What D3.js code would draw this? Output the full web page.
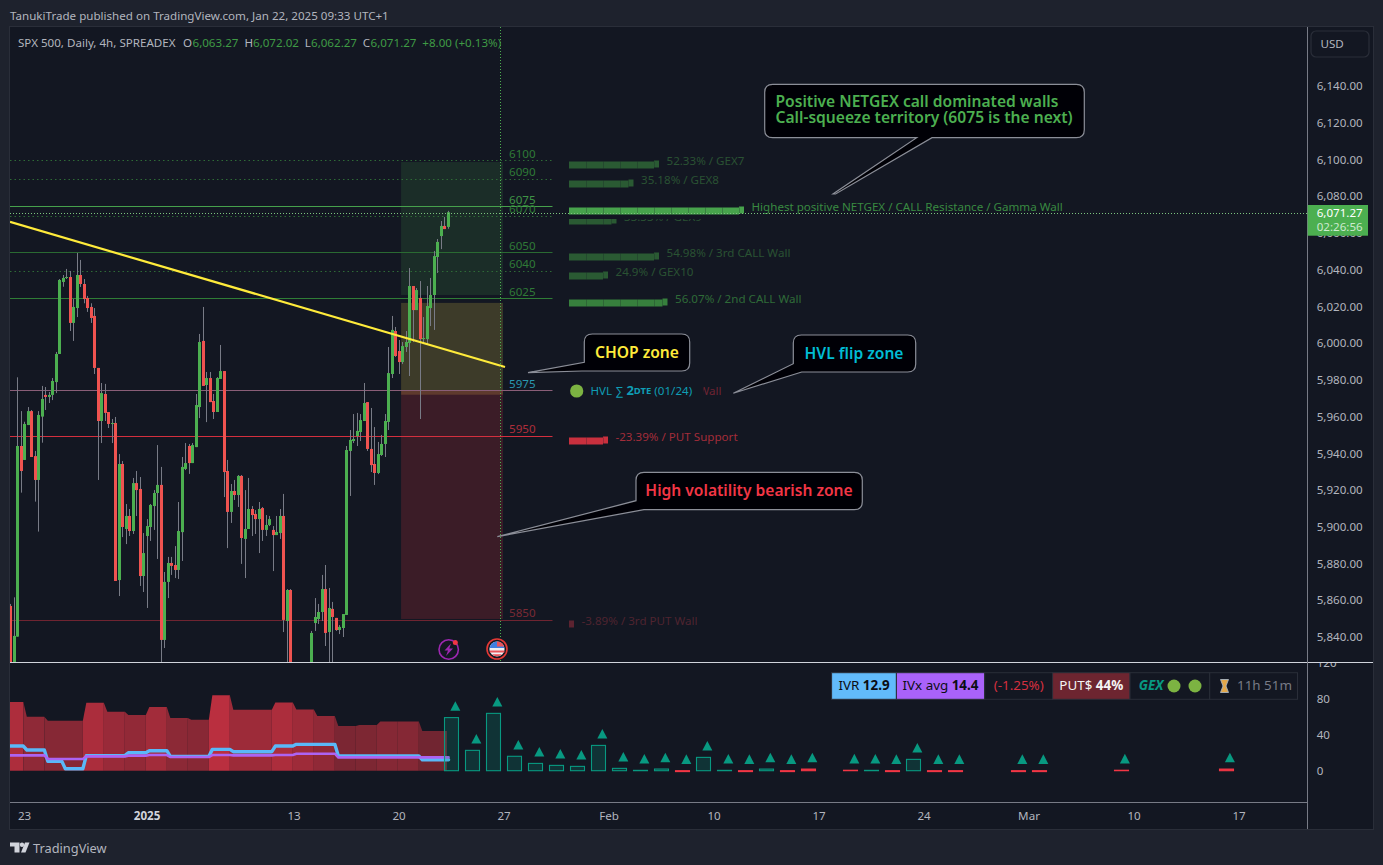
<!DOCTYPE html>
<html><head><meta charset="utf-8">
<script src="https://cdn.jsdelivr.net/npm/d3@7/dist/d3.min.js"></script>
<style>html,body{margin:0;padding:0;background:#1e222d;overflow:hidden}svg{display:block}text{font-family:"Noto Sans",sans-serif}</style>
</head><body><div id="c"></div>
<script>
// ---------- OHLC (bars 81-85 lie below the visible pane) ----------
const barOpen=[5856.9,5820,5840.2,5944.0,5936.4,5955.4,5963.0,5938.5,5925.5,5960.0,5971.8,5970.7,5971.8,5978.8,5994.1,6033.3,6035.5,6036.0,6011.0,6019.1,6037.1,6032.2,6024.6,6019.7,6014.8,5986.5,5957.6,5972.3,5962.5,5956.0,5956.5,5871.0,5934.2,5898.8,5905.9,5897.7,5923.8,5920.6,5873.2,5895.0,5899.9,5911.3,5918.4,5922.8,5838.4,5870.0,5880.3,5879.2,5876.5,5897.1,5931.5,5944.0,5934.7,5943.4,5965.2,6001.2,5977.2,5981.0,5968.5,5962.5,5980.5,5984.8,5930.4,5908.1,5919.5,5917.3,5927.7,5893.4,5898.8,5909.7,5907.0,5904.2,5910.2,5898.3,5901.0,5898.3,5895.5,5896.6,5905.9,5848.7,5865.6,5822,5808,5800,5806,5812,5822,5847.6,5849.8,5853.6,5866.1,5842.7,5855.3,5850.4,5843.8,5844.9,5852.0,5941.3,5946.7,5949.4,5951.6,5957.6,5967.9,5942.4,5934.2,5929.3,5939.1,5945.1,5957.1,5983.2,6006.6,5995.7,5989.7,5997.9,6000.1,6031.1,6018.0,6024.6,6002.2,6002.2,6019.1,6026.2,6046.9,6058.3,6063.8,6063.27];
const barHigh=[5858.0,5861.6,5981.4,5963.0,5957.2,5965.2,5963.6,5941.3,5963.0,5976.7,5976.1,5973.4,5981.0,5995.2,6034.9,6037.1,6040.4,6039.3,6024.0,6049.1,6045.3,6034.9,6025.7,6021.7,6019.1,5986.5,5978.3,5977.8,5962.5,5958.7,5959.8,5939.6,5935.8,5912.4,5909.7,5926.6,5930.4,5927.1,5896.6,5904.2,5912.4,5920.0,5944.5,5932.6,5875.4,5883.6,5883.6,5889.5,5913.5,5938.0,5945.6,5945.1,5945.6,5972.3,6005.0,6019.7,5984.3,5984.3,5972.3,5981.5,5999.0,5984.8,5936.4,5923.3,5925.5,5928.2,5928.2,5920.0,5926.6,5911.3,5909.1,5913.5,5910.8,5906.4,5905.9,5900.4,5905.9,5909.7,5917.9,5866.1,5866.1,5824,5822,5812,5818,5822,5843.3,5861.2,5858.0,5873.8,5879.2,5866.7,5859.1,5850.4,5846.5,5852.5,5944.0,5952.7,5961.4,5962.0,5961.4,5978.3,5967.9,5964.7,5954.3,5946.2,5950.0,5961.4,5997.9,6014.8,6008.8,6001.7,6000.6,6006.6,6040.9,6031.1,6030.0,6033.8,6014.2,6031.1,6035.5,6050.2,6056.7,6066.5,6068.7,6072.02];
const barLow=[5815,5815,5840.2,5918.6,5936.4,5955.4,5938.0,5913.7,5897.4,5945.8,5963.6,5967.4,5969.0,5972.8,5994.1,6030.7,6034.9,6006.6,6001.2,6014.2,6030.6,6021.7,6017.0,6011.0,5983.2,5925.5,5945.6,5957.6,5953.8,5945.6,5870.5,5862.3,5894.4,5890.6,5895.0,5896.1,5905.9,5867.8,5864.5,5855.8,5892.3,5898.3,5882.5,5820,5834.0,5861.2,5873.8,5872.1,5871.6,5881.4,5930.9,5928.8,5934.7,5943.4,5959.2,5976.7,5957.0,5967.9,5958.7,5962.5,5980.5,5916.2,5888.4,5902.1,5914.6,5910.8,5879.8,5872.1,5898.8,5895.0,5896.1,5885.7,5892.3,5895.0,5900.4,5875.9,5895.5,5893.4,5842.7,5815,5815,5800,5795,5790,5798,5805,5815,5843.3,5847.1,5848.7,5835.1,5815,5815,5843.3,5841.6,5840.0,5852.0,5916.8,5945.6,5944.0,5946.7,5957.6,5941.3,5929.8,5922.8,5928.7,5938.6,5938.0,5952.7,5981.0,5992.5,5983.2,5988.6,5995.2,5982.1,6000.6,6018.0,5958.7,5999.5,5999.5,6009.3,6007.2,6038.2,6051.2,6062.1,6062.27];
const barClose=[5820,5840.6,5944.0,5930.4,5956.0,5963.0,5938.0,5925.5,5960.9,5969.6,5970.7,5971.8,5979.4,5994.1,6034.4,6035.5,6036.0,6011.0,6019.7,6037.1,6032.2,6024.0,6019.1,6013.7,5986.5,5957.6,5972.8,5962.0,5956.0,5956.5,5870.5,5934.2,5899.9,5905.9,5897.7,5923.8,5920.0,5873.2,5885.7,5900.4,5911.9,5918.4,5922.8,5838.4,5870.0,5880.3,5878.7,5876.5,5897.7,5932.6,5934.7,5934.7,5944.5,5966.3,6000.6,5976.7,5981.0,5967.9,5962.5,5981.0,5984.8,5929.8,5908.1,5919.5,5917.3,5927.7,5893.9,5898.8,5909.7,5906.4,5904.2,5909.7,5898.3,5901.0,5904.2,5895.5,5897.2,5905.9,5849.3,5865.6,5822,5810,5802,5808,5814,5820,5842.2,5850.9,5853.6,5866.1,5842.2,5855.8,5850.9,5843.8,5845.5,5852.5,5941.8,5947.3,5947.8,5952.2,5958.1,5967.4,5942.4,5933.6,5929.3,5939.6,5945.1,5957.6,5983.7,6007.2,5993.0,5989.7,5998.4,6000.6,6031.1,6018.0,6028.9,6002.2,6002.8,6020.2,6026.2,6047.4,6055.1,6063.8,6062.1,6071.27];

// ---------- price levels ----------
const levelValues=[6100,6090,6075,6070,6050,6040,6025,5975,5950,5850];
const levelDash=[true,true,false,true,false,true,false,false,false,false];
const levelColors=["#2e6b36","#2e6b36","#46a04c","#2e6b36","#2a6a32","#2e6b36","#2f7d36","#8a5e78","#d42f3e","#6f2431"];
const levelTextColors=["#2f7a37","#2f7a37","#3f9446","#2f7a37","#2f7a37","#2f7a37","#2f7a37","#2a98b0","#ae2e3b","#7a2a35"];

// ---------- shaded zones: top price, bottom price ----------
const zoneTops=[6099.7,6023,5975.4];
const zoneBottoms=[6027.3,5973,5850.9];
const zoneFills=["rgba(76,175,80,.15)","rgba(232,205,70,.2)","rgba(242,54,69,.18)"];
const zoneBars=[111.5,140.6];

// ---------- GEX rows ----------
const gexLevels=[6100,6090,6075,6070,6050,6040,6025,5950,5850];
const gexBlocks=[5,3.5,10,2.5,5,2,5.5,2,0];
const gexLabels=["52.33% / GEX7","35.18% / GEX8","Highest positive NETGEX / CALL Resistance / Gamma Wall","33.33% / GEX9","54.98% / 3rd CALL Wall","24.9% / GEX10","56.07% / 2nd CALL Wall","-23.39% / PUT Support","-3.89% / 3rd PUT Wall"];
const gexBarColors=["#2a5a33","#2a5a33","#47a34c","#2a5a33","#2a5a33","#2a5a33","#37803d","#c9303e","#5c2330"];
const gexTextColors=["#2a5233","#2a5233","#398a41","#2a5233","#2a5233","#2a5233","#2f6b38","#a32d3a","#4f2430"];

// ---------- lower pane: implied-volatility bands ----------
const ivStarts=[0,4,10,21,27,33,39,45,51,57,63,75,81,87,93,99,105,111,117];
const ivValues=[76.3,60,55.6,75.6,65.6,61.9,70.7,58.5,56.7,83.7,67.8,75.9,68.1,60.7,49.6,50.7,54.8,54.8,44.1];
const ivrStarts=[0,4,10,15,21,33,39,45,57,63,75,81,93,117];
const ivrValues=[27.4,23,10.4,2.2,16.7,20,22.2,15.9,23.7,21.1,27.4,29.3,16.3,12.2];
const ivxStarts=[0,10,21,33,39,45,57,63,75,81,93];
const ivxValues=[17,13,15.9,16.7,17.4,15.2,17.4,17,17.4,18.9,14.8];
const ivLastBar=125;

// ---------- lower pane: expiry bars ----------
const expiryBars=[126,132,138,144,150,156,162,168,174,180,186,192,198,204,210,216,222,228,240,246,252,258,264,270,288,294,317.3,347.3];
const expiryValues=[59,22.6,63.7,16,8.1,5.9,4.8,28.1,2.6,0.4,1.85,-1,14.8,0.4,-1,1.8,-1,1.8,0.5,0.4,-1,12.6,-1,-1,-1,-1,0.5,1.8];
const expiryRed=[0,0,0,0,0,0,0,0,0,0,0,1,0,0,1,0,1,1,1,0,1,0,1,1,1,1,1,1];

// ---------- axes ----------
const priceTicks=[6140,6120,6100,6080,6060,6040,6020,6000,5980,5960,5940,5920,5900,5880,5860,5840];
const paneTicks=[120,80,40,0];
const timeTickBars=[4,39,81,111,141,171,201,231,261,291,321,351];
const timeTickLabels=["23","2025","13","20","27","Feb","10","17","24","Mar","10","17"];
const trendBars=[-0.24,141.2];
const trendPrices=[6066,5987];
const cursorBar=140;
const lastPrice=6071.27;

const W=1383,H=865;
const svg=d3.select("#c").append("svg").attr("width",W).attr("height",H);
const plotL=10,plotR=1307,axisR=1373,paneTop=27,paneBot=662,lowBot=802,frameBot=829;
const x=d3.scaleLinear().domain([0,125]).range([10.83,448.33]);
const y=d3.scaleLinear().domain([5840,6140]).range([637,86]);
const y2=d3.scaleLinear().domain([0,80]).range([770.7,698.7]);
const levelShift=1;
const yl=v=>y(v)+levelShift;

svg.append("rect").attr("width",W).attr("height",H).attr("fill","#1e222d");
svg.append("rect").attr("x",plotL-1).attr("y",paneTop-1).attr("width",axisR-plotL+2).attr("height",frameBot-paneTop+2).attr("fill","#2a2e39");
svg.append("rect").attr("x",plotL).attr("y",paneTop).attr("width",axisR-plotL).attr("height",frameBot-paneTop).attr("fill","#131722");

const defs=svg.append("defs");
defs.append("clipPath").attr("id","cMain").append("rect").attr("x",plotL).attr("y",paneTop).attr("width",plotR-plotL).attr("height",paneBot-paneTop);
defs.append("clipPath").attr("id","cLow").append("rect").attr("x",plotL).attr("y",paneBot).attr("width",plotR-plotL).attr("height",lowBot-paneBot);
defs.append("clipPath").attr("id","cTick").append("rect").attr("x",plotR).attr("y",paneBot+1).attr("width",70).attr("height",lowBot-paneBot);
defs.append("clipPath").attr("id","cRow").append("rect").attr("x",plotL).attr("y",219).attr("width",plotR-plotL).attr("height",20);
defs.append("clipPath").attr("id","cWall").append("rect").attr("x",703.5).attr("y",380).attr("width",40).attr("height",24);

const main=svg.append("g").attr("clip-path","url(#cMain)");

// zones
zoneTops.forEach((t,i)=>{
 main.append("rect").attr("x",x(zoneBars[0])).attr("width",x(zoneBars[1])-x(zoneBars[0]))
  .attr("y",yl(t)+1).attr("height",y(zoneBottoms[i])-y(t)).attr("fill",zoneFills[i]);
});

// level lines + labels
levelValues.forEach((v,i)=>{
 main.append("line").attr("x1",plotL).attr("x2",552.5).attr("y1",Math.round(yl(v))+.5).attr("y2",Math.round(yl(v))+.5)
  .attr("stroke",levelColors[i]).attr("stroke-width",1).attr("stroke-dasharray",levelDash[i]?"1.5 3":null);
 main.append("text").attr("x",509).attr("y",yl(v)-7).attr("dominant-baseline","central").attr("font-size",11.6)
  .attr("fill",levelTextColors[i]).text(v);
});

// GEX bars + labels
const blockW=d3.scaleLinear().domain([0,10]).range([0,170]);
gexLevels.forEach((v,i)=>{
 const top=Math.round(yl(v))+1, w=blockW(gexBlocks[i]);
 const g=main.append("g");
 if(v===6070) g.attr("clip-path","url(#cRow)");
 g.append("rect").attr("x",569).attr("y",top+.5).attr("width",w).attr("height",7).attr("fill",gexBarColors[i]);
 g.append("rect").attr("x",569+w).attr("y",top-.5).attr("width",5).attr("height",7).attr("fill",gexBarColors[i]);
 d3.range(1,Math.floor(gexBlocks[i])+1).forEach(b=>{
  g.append("line").attr("x1",569+blockW(b)+.5).attr("x2",569+blockW(b)+.5).attr("y1",top+.5).attr("y2",top+7.5)
   .attr("stroke","#131722").attr("stroke-opacity",.25);
 });
 g.append("text").attr("x",569+w+5+7.5).attr("y",top-1).attr("dominant-baseline","central")
  .attr("font-size",11.6).attr("fill",gexTextColors[i]).text(gexLabels[i]);
});

// HVL row
main.append("circle").attr("cx",576.7).attr("cy",391).attr("r",6.6).attr("fill","#7cb342");
const hvl=main.append("text").attr("x",590.5).attr("y",390).attr("dominant-baseline","central").attr("font-size",11.6).attr("fill","#0f9db4");
hvl.append("tspan").text("HVL ∑ ");
hvl.append("tspan").attr("font-weight",700).attr("font-size",13).text("2");
hvl.append("tspan").attr("font-weight",700).attr("font-size",9.5).text("DTE");
hvl.append("tspan").text(" (01/24)");
main.append("text").attr("clip-path","url(#cWall)").attr("x",698.5).attr("y",390).attr("dominant-baseline","central").attr("font-size",11.6).attr("fill","#6e2433").text("Wall");

// candles
const up="#4caf50",dn="#ef5350";
const cg=main.append("g");
barOpen.forEach((o,i)=>{
 const bx=Math.round(x(i)-1.5);
 cg.append("rect").attr("x",bx+1).attr("width",1).attr("y",y(barHigh[i])).attr("height",y(barLow[i])-y(barHigh[i])).attr("fill","#787b86");
});
barOpen.forEach((o,i)=>{
 const c=barClose[i], bx=Math.round(x(i)-1.5), t=y(Math.max(o,c)), b=y(Math.min(o,c));
 cg.append("rect").attr("x",bx).attr("width",3).attr("y",t).attr("height",Math.max(1,b-t)).attr("fill",c>=o?up:dn);
});

// trendline
main.append("line").attr("x1",x(trendBars[0])).attr("y1",y(trendPrices[0])).attr("x2",x(trendBars[1])).attr("y2",y(trendPrices[1])).attr("stroke","#ffeb3b").attr("stroke-width",2.2);

// current-price crosshair
svg.append("line").attr("x1",Math.floor(x(cursorBar))+.5).attr("x2",Math.floor(x(cursorBar))+.5).attr("y1",paneTop).attr("y2",paneBot).attr("stroke","#4caf50").attr("stroke-width",1).attr("stroke-dasharray","1 2");
svg.append("line").attr("x1",plotL).attr("x2",plotR).attr("y1",Math.round(yl(lastPrice))+.5).attr("y2",Math.round(yl(lastPrice))+.5).attr("stroke","#7cc47f").attr("stroke-width",1).attr("stroke-dasharray","1 2");

// callouts
function callout(bx,by,bw,bh,pts,lines,color,tx,anchor){
 const r=8,X=bx+bw,Y=by+bh;
 const d=pts.kind==="bottom"
  ?`M${bx+r},${by}H${X-r}Q${X},${by} ${X},${by+r}V${Y-r}Q${X},${Y} ${X-r},${Y}H${pts.a}L${pts.tip[0]},${pts.tip[1]}L${pts.tip2[0]},${pts.tip2[1]}L${pts.b},${Y}H${bx+r}Q${bx},${Y} ${bx},${Y-r}V${by+r}Q${bx},${by} ${bx+r},${by}Z`
  :`M${bx+r},${by}H${X-r}Q${X},${by} ${X},${by+r}V${Y-r}Q${X},${Y} ${X-r},${Y}H${pts.a}L${pts.tip[0]},${pts.tip[1]}L${pts.b[0]},${pts.b[1]}V${by+r}Q${bx},${by} ${bx+r},${by}Z`;
 svg.append("path").attr("d",d).attr("fill","#000006").attr("stroke","#8b8e98").attr("stroke-width",1.2);
 lines.forEach((t,i)=>svg.append("text").attr("x",tx).attr("y",by+(lines.length>1?16.4+16.3*i:bh/2-1)).attr("dominant-baseline","central")
  .attr("text-anchor",anchor).attr("font-size",15.6).attr("font-weight",600).attr("fill",color).text(t));
}
callout(764.7,84.3,319.6,53.4,{kind:"bottom",a:932,b:916.7,tip:[835.5,194],tip2:[833,194]},["Positive NETGEX call dominated walls","Call-squeeze territory (6075 is the next)"],"#4caf50",775.5,"start");
callout(584.3,334,105.4,37,{a:582,tip:[528,372.7],b:[584.3,362.3]},["CHOP zone"],"#ffeb3b",637,"middle");
callout(793.3,335,122.4,37,{a:801.7,tip:[733.3,393.3],b:[793.3,363.7]},["HVL flip zone"],"#00bcd4",854,"middle");
callout(636,472.3,226.3,37.4,{a:644,tip:[497.3,536.7],b:[636,500.7]},["High volatility bearish zone"],"#f23645",749,"middle");

// event icons
const ev=svg.append("g");
ev.append("circle").attr("cx",448.7).attr("cy",649.5).attr("r",9.7).attr("fill","#131722").attr("stroke","#9c27b0").attr("stroke-width",1.6);
ev.append("path").attr("d","M451,643.5L444.5,650.5H448L446,656L453,648.5H449.3Z").attr("fill","#9c27b0");
ev.append("circle").attr("cx",455.3).attr("cy",642.5).attr("r",2.5).attr("fill","#f23645");
ev.append("circle").attr("cx",497).attr("cy",649).attr("r",10).attr("fill","#131722").attr("stroke","#e53935").attr("stroke-width",1.6);
ev.append("circle").attr("cx",497).attr("cy",649).attr("r",7.6).attr("fill","#eef0f3");
ev.append("path").attr("d","M489.6,648H504.4A7.6,7.6 0 0 0 497,641.4A7.6,7.6 0 0 0 489.6,648Z").attr("fill","#3f7fe0");
ev.append("path").attr("d","M497,641.4A7.6,7.6 0 0 1 504.2,646.5H497Z").attr("fill","#e9545b");
ev.append("path").attr("d","M489.6,650.5H504.4V652.4H490.2ZM491.8,654.2H502.2A7.6,7.6 0 0 1 491.8,654.2Z").attr("fill","#e9545b");

// ---------- lower pane ----------
const low=svg.append("g").attr("clip-path","url(#cLow)");
function stepPts(starts,vals,last){
 const p=[[starts[0],vals[0]]];
 for(let i=1;i<starts.length;i++){p.push([starts[i],vals[i-1]]);p.push([starts[i]+1,vals[i]]);}
 p.push([last,vals[vals.length-1]]);return p;
}
const ivColor=d3.scaleLinear().domain([44,84]).range(["#712531","#bb2f3f"]);
const bx=i=>x(i)-1.5;
const area=d3.area().x(d=>bx(d[0])).y0(y2(0)).y1(d=>y2(d[1]));
ivStarts.forEach((s,i)=>{
 const e=i+1<ivStarts.length?ivStarts[i+1]:ivLastBar;
 const pts=i===0?[[s,ivValues[0]],[e,ivValues[0]]]:[[s,ivValues[i-1]],[s+1,ivValues[i]],[e,ivValues[i]]];
 low.append("path").attr("d",area(pts)).attr("fill",ivColor(ivValues[i]));
});
const lineG=d3.line().x(d=>bx(d[0])).y(d=>y2(d[1]));
low.append("path").attr("d",lineG(stepPts(ivrStarts,ivrValues,ivLastBar+.5))).attr("fill","none").attr("stroke","#5ab8f8").attr("stroke-width",3.4).attr("stroke-linejoin","round").attr("stroke-linecap","round");
low.append("path").attr("d",lineG(stepPts(ivxStarts,ivxValues,ivLastBar+.5))).attr("fill","none").attr("stroke","#ad63f2").attr("stroke-width",2.6).attr("stroke-linecap","round");

expiryBars.forEach((b,i)=>{
 const v=expiryValues[i], cx=x(b), red=expiryRed[i];
 const t=y2(Math.max(v,0)), bt=y2(Math.min(v,0));
 low.append("rect").attr("x",Math.floor(cx-7)+.5).attr("width",14).attr("y",t).attr("height",Math.max(bt-t,.1))
  .attr("fill",red?"#f23645":"rgba(8,153,129,.22)").attr("stroke",red?"#f23645":"#089981").attr("stroke-width",1.1);
 const tb=y2(Math.max(v,0))-6.8;
 low.append("path").attr("d",`M${cx+3.5-5},${tb}L${cx+3.5+5},${tb}L${cx+3.5},${tb-9.6}Z`).attr("fill","#089981");
});

// info table
const tbl=svg.append("g");
const cellX=[831.6,896.4,984.7,1052.6,1130,1209.7,1297.5];
const cellFill=["#62bbfb","#a962fa","#131722","#6d2530","#131722","#131722"];
cellFill.forEach((f,i)=>tbl.append("rect").attr("x",cellX[i]).attr("y",672.7).attr("width",cellX[i+1]-cellX[i]).attr("height",26.6).attr("fill",f).attr("stroke","#2a2e39").attr("stroke-width",1));
function cell(cx,parts,color,anchor){
 const t=tbl.append("text").attr("x",cx).attr("y",685).attr("dominant-baseline","central").attr("font-size",13.4).attr("text-anchor",anchor||"middle").attr("fill",color);
 parts.forEach(p=>{const s=t.append("tspan").text(p[0]);if(p[1])s.attr("font-weight",700);if(p[2])s.attr("font-style","italic");});
}
cell(864,[["IVR "],["12.9",1]],"#0b0e14");
cell(940.5,[["IVx avg "],["14.4",1]],"#0b0e14");
cell(1018.7,[["(-1.25%)"]],"#d32f3f");
cell(1091.3,[["PUT$ "],["44%",1]],"#f4f4f4");
cell(1151,[["GEX",1,1]],"#089981");
[1174,1195].forEach(c=>tbl.append("circle").attr("cx",c).attr("cy",686).attr("r",6.5).attr("fill","#7cb342"));
tbl.append("path").attr("d","M1220.5,679.5H1228.5L1226,686L1228.5,692.5H1220.5L1223,686Z").attr("fill","#e3a84b").attr("stroke","#aab4c0").attr("stroke-width",.9);
cell(1237,[["11h 51m"]],"#787b86","start");

// ---------- separators ----------
svg.append("line").attr("x1",plotL).attr("x2",plotR+66).attr("y1",662.5).attr("y2",662.5).attr("stroke","#d1d4dc").attr("stroke-width",1.2);
svg.append("line").attr("x1",plotL).attr("x2",plotR).attr("y1",802.5).attr("y2",802.5).attr("stroke","#787b86");
svg.append("line").attr("x1",plotR+.5).attr("x2",plotR+.5).attr("y1",paneTop).attr("y2",frameBot).attr("stroke","#787b86");

// axes
const tickStyle=g=>{g.select(".domain").remove();g.selectAll("line").remove();g.selectAll("text").attr("fill","#b2b5be").attr("font-size",11.6).style("font-family",'"Noto Sans",sans-serif');};
svg.append("g").attr("transform","translate(1316.7,0)")
 .call(d3.axisRight(y).tickValues(priceTicks).tickFormat(d3.format(",.2f")).tickSize(0).tickPadding(0)).call(tickStyle);
svg.append("g").attr("clip-path","url(#cTick)").append("g").attr("transform","translate(1316.7,0)")
 .call(d3.axisRight(y2).tickValues(paneTicks).tickFormat(d3.format("d")).tickSize(0).tickPadding(0)).call(tickStyle);
const xAxis=svg.append("g").attr("transform","translate(-.8,812)")
 .call(d3.axisBottom(x).tickValues(timeTickBars).tickFormat((d,i)=>timeTickLabels[i]).tickSize(0).tickPadding(0)).call(tickStyle);
xAxis.selectAll("text").attr("font-weight",(d,i)=>timeTickLabels[i]==="2025"?700:400).attr("fill",(d,i)=>timeTickLabels[i]==="2025"?"#d1d4dc":"#b2b5be");

// USD button
svg.append("rect").attr("x",1311).attr("y",31).attr("width",58).attr("height",26).attr("rx",5).attr("fill","#131722").attr("stroke","#2a2e39").attr("stroke-width",1.2);
svg.append("text").attr("x",1320.5).attr("y",43.5).attr("dominant-baseline","central").attr("font-size",11.6).attr("fill","#b2b5be").text("USD");

// price tag
svg.append("rect").attr("x",1307.7).attr("y",205).attr("width",60.3).attr("height",30.7).attr("fill","#4caf50");
svg.append("text").attr("x",1316.7).attr("y",212.8).attr("dominant-baseline","central").attr("font-size",11.6).attr("fill","#fff").text("6,071.27");
svg.append("text").attr("x",1316.7).attr("y",226.5).attr("dominant-baseline","central").attr("font-size",11.6).attr("fill","#cdeacf").text("02:26:56");

// header
svg.append("text").attr("x",10).attr("y",15).attr("dominant-baseline","central").attr("font-size",11.6).attr("fill","#b2b5be").text("TanukiTrade published on TradingView.com, Jan 22, 2025 09:33 UTC+1");
const lg=[[18,"SPX 500, Daily, 4h, SPREADEX","#b2b5be"],[183,"O","#b2b5be"],[192.5,"6,063.27","#3f9b45"],[244.5,"H","#b2b5be"],[253,"6,072.02","#3f9b45"],[304.7,"L","#b2b5be"],[311,"6,062.27","#3f9b45"],[362.7,"C","#b2b5be"],[370.5,"6,071.27","#3f9b45"],[422.3,"+8.00 (+0.13%)","#3f9b45"]];
lg.forEach(d=>svg.append("text").attr("x",d[0]).attr("y",42.5).attr("dominant-baseline","central").attr("font-size",11.6).attr("fill",d[2]).text(d[1]));

// watermark
const tv=svg.append("g").attr("fill","#d1d4dc");
tv.append("path").attr("d","M10,842.5H19.5V852.5H14.5V846.5H10Z");
tv.append("circle").attr("cx",22).attr("cy",844.7).attr("r",2.2);
tv.append("path").attr("d","M25,842.5H29.5L25.5,852.5H21Z");
svg.append("text").attr("x",33).attr("y",848).attr("dominant-baseline","central").attr("font-size",12.8).attr("fill","#b2b5be").text("TradingView");
</script></body></html>
